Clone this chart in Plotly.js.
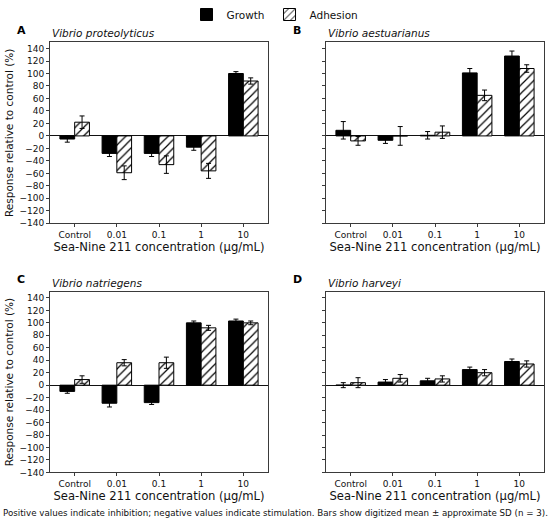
<!DOCTYPE html>
<html>
<head>
<meta charset="utf-8">
<script src="https://cdn.plot.ly/plotly-3.0.1.min.js"></script>
<style>html,body{margin:0;padding:0;background:#fff;}#chart{width:550px;height:524px;}</style>
</head>
<body>
<div id="chart"></div>
<script>
// ---- data ----
const categories = ["Control", "0.01", "0.1", "1", "10"];
const panelLetters = ["A", "B", "C", "D"];
const species = ["Vibrio proteolyticus", "Vibrio aestuarianus", "Vibrio natriegens", "Vibrio harveyi"];

const growthA = [-5, -28, -28, -18, 100];
const growthA_sd = [5, 5, 5, 5, 3];
const adhesionA = [22, -59, -46, -56, 88];
const adhesionA_sd = [10, 11, 14, 12, 5];

const growthB = [9, -7, 1, 101, 128];
const growthB_sd = [14, 5, 6, 7, 8];
const adhesionB = [-8, 0, 6, 65, 108];
const adhesionB_sd = [7, 15, 10, 8.5, 6];

const growthC = [-10, -29, -28, 100, 103];
const growthC_sd = [3, 6, 3, 3, 3];
const adhesionC = [9, 36, 36, 92, 100];
const adhesionC_sd = [6, 5, 9, 4, 3];

const growthD = [0, 5, 7, 25, 38];
const growthD_sd = [4, 4, 4, 4, 4];
const adhesionD = [4, 11, 10, 20, 34];
const adhesionD_sd = [8, 6, 5, 5, 5];

const yTicks = [-140, -120, -100, -80, -60, -40, -20, 0, 20, 40, 60, 80, 100, 120, 140];

const growthAll = [growthA, growthB, growthC, growthD];
const growthSdAll = [growthA_sd, growthB_sd, growthC_sd, growthD_sd];
const adhesionAll = [adhesionA, adhesionB, adhesionC, adhesionD];
const adhesionSdAll = [adhesionA_sd, adhesionB_sd, adhesionC_sd, adhesionD_sd];

// ---- layout geometry ----
const W = 550, H = 524;
const xDomains = [[50, 268], [326, 544], [50, 268], [326, 544]];
const yDomains = [[42.3, 223.3], [42.3, 223.3], [291.7, 472.4], [291.7, 472.4]];
const FONT = "DejaVu Sans, Verdana, sans-serif";
const frameColor = "#3a3a3a";

const traces = [];
const layout = {
  width: W, height: H,
  margin: {l: 0, r: 0, t: 0, b: 0},
  paper_bgcolor: "#fff", plot_bgcolor: "#fff",
  barmode: "group", bargap: 0.3, bargroupgap: 0,
  font: {family: FONT, size: 9, color: "#111"},
  showlegend: true,
  legend: {orientation: "h", x: 0.5, xanchor: "center", y: 1, yanchor: "top",
           font: {family: FONT, size: 10.5, color: "#111"}, itemwidth: 30, tracegroupgap: 0,
           bgcolor: "rgba(0,0,0,0)"},
  annotations: [],
  shapes: []
};

for (let i = 0; i < 4; i++) {
  const n = i === 0 ? "" : String(i + 1);
  const xa = "x" + n, ya = "y" + n;
  traces.push({
    type: "bar", name: "Growth", x: categories, y: growthAll[i],
    xaxis: xa, yaxis: ya, legendgroup: "g", showlegend: i === 0,
    marker: {color: "#000", line: {color: "#000", width: 1}},
    error_y: {type: "data", array: growthSdAll[i], visible: true, color: "#000", thickness: 1, width: 2.5},
    hoverinfo: "skip"
  });
  traces.push({
    type: "bar", name: "Adhesion", x: categories, y: adhesionAll[i],
    xaxis: xa, yaxis: ya, legendgroup: "a", showlegend: i === 0,
    marker: {color: "#fff", line: {color: "#000", width: 1},
             pattern: {shape: "/", fgcolor: "#000", bgcolor: "#fff", size: 6, solidity: 0.2}},
    error_y: {type: "data", array: adhesionSdAll[i], visible: true, color: "#000", thickness: 1, width: 2.5},
    hoverinfo: "skip"
  });
  const xd = xDomains[i], yd = yDomains[i];
  layout["xaxis" + n] = {
    domain: [xd[0] / W, xd[1] / W], anchor: ya, type: "category",
    range: [-0.585, 4.585], showgrid: false, zeroline: false,
    showline: true, linecolor: frameColor, linewidth: 1, mirror: true,
    ticks: "outside", ticklen: 3, tickcolor: frameColor, tickwidth: 1,
    tickfont: {family: FONT, size: 9, color: "#111"},
    title: {text: "Sea-Nine 211 concentration (µg/mL)", font: {family: FONT, size: 11.6, color: "#111"}, standoff: 3}
  };
  layout["yaxis" + n] = {
    domain: [1 - yd[1] / H, 1 - yd[0] / H], anchor: xa,
    range: [-140, 150], showgrid: false,
    zeroline: true, zerolinecolor: "#111", zerolinewidth: 1,
    showline: true, linecolor: frameColor, linewidth: 1, mirror: true,
    ticks: "outside", ticklen: 3, tickcolor: frameColor, tickwidth: 1,
    tickmode: "array", tickvals: yTicks, showticklabels: (i % 2 === 0),
    tickfont: {family: FONT, size: 9, color: "#111"},
    title: (i % 2 === 0) ? {text: "Response relative to control (%)", font: {family: FONT, size: 10.5, color: "#111"}, standoff: 3} : {text: ""}
  };
  // panel letter
  layout.annotations.push({
    text: "<b>" + panelLetters[i] + "</b>", xref: "paper", yref: "paper",
    x: (xd[0] - 29) / W, y: 1 - (yd[0] - 12) / H, xanchor: "center", yanchor: "middle",
    showarrow: false, font: {family: FONT, size: 11, color: "#000"}
  });
  // species title
  layout.annotations.push({
    text: "<i>" + species[i] + "</i>", xref: "paper", yref: "paper",
    x: xd[0] / W, y: 1 - (yd[0] - 9) / H, xanchor: "left", yanchor: "middle",
    showarrow: false, font: {family: FONT, size: 10.5, color: "#111"}
  });
}

layout.annotations.push({
  text: "Positive values indicate inhibition; negative values indicate stimulation. Bars show digitized mean ± approximate SD (n = 3).",
  xref: "paper", yref: "paper", x: 0.5, y: 1 - 513 / H, xanchor: "center", yanchor: "middle",
  showarrow: false, font: {family: FONT, size: 8.7, color: "#111"}
});

Plotly.newPlot("chart", traces, layout, {displayModeBar: false, staticPlot: true});
</script>
</body>
</html>
